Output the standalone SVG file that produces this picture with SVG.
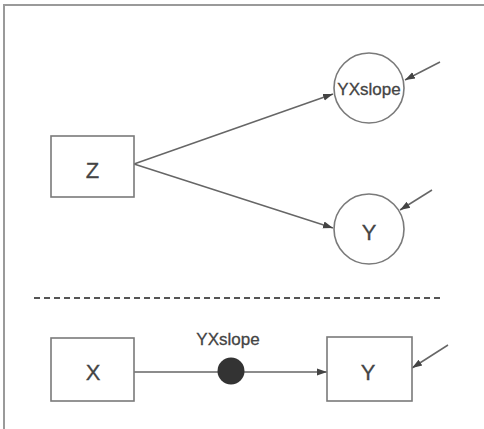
<svg xmlns="http://www.w3.org/2000/svg" width="484" height="429" viewBox="0 0 484 429">
  <style>
    .frame { stroke: #9a9a9a; stroke-width: 2; fill: none; }
    .box { fill: #ffffff; stroke: #7a7a7a; stroke-width: 1.6; }
    .ring { fill: #ffffff; stroke: #7a7a7a; stroke-width: 1.6; }
    .edge { stroke: #666666; stroke-width: 1.5; fill: none; }
    .lbl { font-family: "Liberation Sans", Arial, sans-serif; fill: #444444; stroke: #444444; stroke-width: 0.3; text-anchor: middle; }
    .big { font-size: 22px; }
    .mid { font-size: 17px; }
    .sep { stroke: #555555; stroke-width: 2; stroke-dasharray: 6 4; fill: none; }
  </style>
  <defs>
    <marker id="head" markerUnits="userSpaceOnUse" markerWidth="11" markerHeight="9" refX="10" refY="4.5" orient="auto">
      <path d="M0,1 L10,4.5 L0,8 z" fill="#444444"/>
    </marker>
  </defs>

  <rect width="484" height="429" fill="#ffffff"/>
  <!-- outer frame: top and left edges -->
  <path class="frame" d="M4,429 V5 H484"/>

  <!-- connectors -->
  <g id="connectors">
    <line class="edge" x1="134" y1="164" x2="333" y2="94" marker-end="url(#head)"/>
    <line class="edge" x1="134" y1="164" x2="333" y2="228" marker-end="url(#head)"/>
    <line class="edge" x1="440" y1="62" x2="405" y2="80" marker-end="url(#head)"/>
    <line class="edge" x1="432" y1="190" x2="400" y2="210" marker-end="url(#head)"/>
    <line class="edge" x1="134" y1="372" x2="327" y2="372" marker-end="url(#head)"/>
    <line class="edge" x1="448" y1="345" x2="412" y2="368" marker-end="url(#head)"/>
  </g>

  <!-- upper model -->
  <g id="node-z">
    <rect class="box" x="51" y="136" width="83" height="61"/>
    <text class="lbl big" x="92.5" y="178">Z</text>
  </g>
  <g id="node-yxslope">
    <circle class="ring" cx="369" cy="88" r="35"/>
    <text class="lbl mid" x="369" y="95">YXslope</text>
  </g>
  <g id="node-y-latent">
    <circle class="ring" cx="369" cy="229" r="35"/>
    <text class="lbl big" x="369" y="240">Y</text>
  </g>

  <!-- separator -->
  <line class="sep" x1="34" y1="298" x2="443" y2="298"/>

  <!-- lower model -->
  <g id="node-x">
    <rect class="box" x="51" y="338" width="83" height="63"/>
    <text class="lbl big" x="93" y="380">X</text>
  </g>
  <g id="node-slope-dot">
    <circle cx="231" cy="371" r="13.5" fill="#333333"/>
    <text class="lbl mid" x="228" y="345">YXslope</text>
  </g>
  <g id="node-y-observed">
    <rect class="box" x="327" y="337" width="85" height="64"/>
    <text class="lbl big" x="368" y="380">Y</text>
  </g>
</svg>
